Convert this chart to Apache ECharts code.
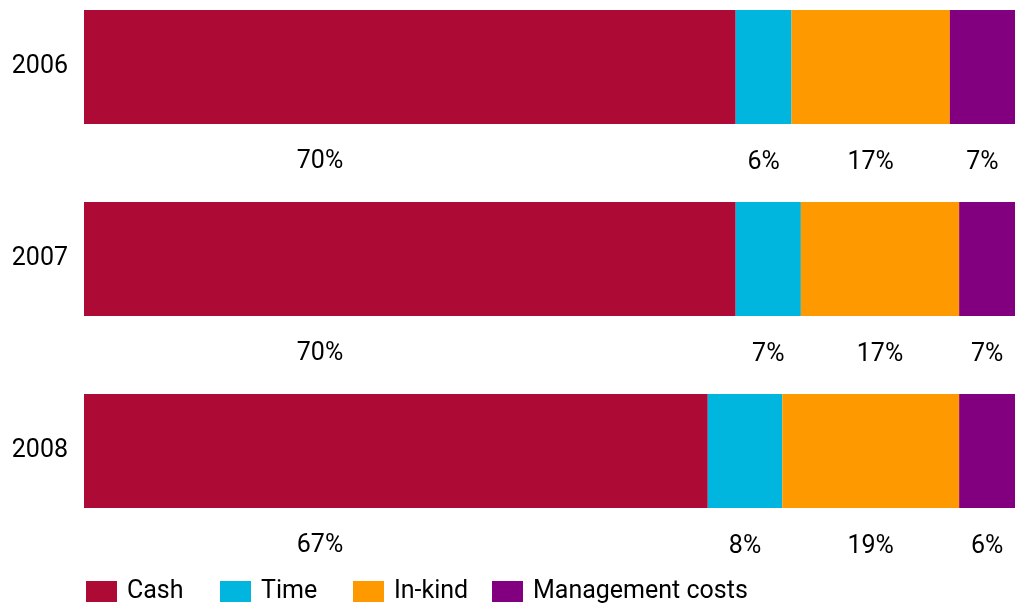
<!DOCTYPE html>
<html>
<head>
<meta charset="utf-8">
<title>Giving by type, 2006–2008</title>
<script src="https://cdn.jsdelivr.net/npm/echarts@6/dist/echarts.min.js"></script>
<style>
  html, body { margin: 0; padding: 0; background: #fff; }
  #chart { width: 1015px; height: 607px; }
</style>
</head>
<body>
<div id="chart"></div>
<script>
// Share of giving by type, in percent
const years = ['2006', '2007', '2008'];
const cash = [70, 70, 67];
const time = [6, 7, 8];
const inKind = [17, 17, 19];
const managementCosts = [7, 7, 6];

const seriesNames = ['Cash', 'Time', 'In-kind', 'Management costs'];
const seriesColors = ['#AE0A36', '#00B5DE', '#FF9900', '#820080'];
// left edge of each legend entry
const legendLefts = [86, 220, 353, 492];

const FONT = 'Roboto, "DejaVu Sans", sans-serif';
const TEXT_SIZE = 25;
const TEXT_COLOR = '#000';

function makeSeries(name, values, color, labelOverride) {
  return {
    name: name,
    type: 'bar',
    stack: 'total',
    barWidth: 114,
    data: values,
    itemStyle: { color: color },
    emphasis: { disabled: true },
    label: Object.assign({
      show: true,
      position: 'bottom',
      distance: 26,
      color: TEXT_COLOR,
      fontFamily: FONT,
      fontSize: TEXT_SIZE,
      formatter: p => p.value + '%'
    }, labelOverride || {})
  };
}

// one legend block per entry so every entry sits at its own column
const legends = seriesNames.map((name, i) => ({
  left: legendLefts[i],
  top: 579,
  padding: 0,
  itemWidth: 31,
  itemHeight: 21,
  icon: 'rect',
  selectedMode: false,
  textStyle: {
    color: TEXT_COLOR,
    fontFamily: FONT,
    fontSize: TEXT_SIZE,
    padding: [0, 0, 0, 5]
  },
  data: [name]
}));

const chart = echarts.init(document.getElementById('chart'), null, { renderer: 'canvas' });

chart.setOption({
  animation: false,
  backgroundColor: '#fff',
  grid: { left: 84, right: 0, top: -29, height: 576, outerBoundsMode: 'none', containLabel: false },
  xAxis: {
    type: 'value',
    min: 0,
    max: 100,
    show: false
  },
  yAxis: {
    type: 'category',
    data: years,
    inverse: true,
    axisLine: { show: false },
    axisTick: { show: false },
    axisLabel: {
      margin: 16,
      color: TEXT_COLOR,
      fontFamily: FONT,
      fontSize: TEXT_SIZE
    }
  },
  legend: legends,
  series: [
    makeSeries(seriesNames[0], cash, seriesColors[0], {
      position: [236, 152],
      align: 'center',
      verticalAlign: 'middle'
    }),
    makeSeries(seriesNames[1], time, seriesColors[1]),
    makeSeries(seriesNames[2], inKind, seriesColors[2]),
    makeSeries(seriesNames[3], managementCosts, seriesColors[3])
  ]
});
</script>
</body>
</html>
